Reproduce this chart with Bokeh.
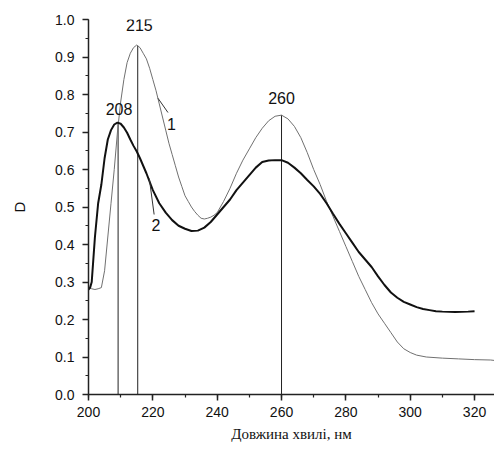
from bokeh.plotting import figure
from bokeh.embed import file_html
from bokeh.resources import INLINE
from bokeh.models import Range1d, FixedTicker, NumeralTickFormatter
from bokeh.core.properties import value

# Curve 1 (thin, grey)
wl1 = [200, 201, 202, 203, 204, 205, 206, 207, 208, 209, 210, 211, 212, 213, 214, 215, 216, 217, 218, 219,
       220, 221, 222, 223, 224, 225, 226, 227, 228, 229, 230, 231, 232, 233, 234, 235, 236, 237, 238, 239,
       240, 242, 244, 246, 248, 250, 252, 254, 256, 258, 260, 262, 264, 266, 268, 270, 272, 274, 276, 278,
       280, 282, 284, 286, 288, 290, 292, 294, 296, 298, 300, 302, 305, 310, 315, 320, 325, 327]
d1 = [0.285, 0.282, 0.280, 0.282, 0.285, 0.33, 0.42, 0.51, 0.60, 0.70, 0.78, 0.84, 0.885, 0.91, 0.925, 0.932,
      0.925, 0.91, 0.895, 0.87, 0.84, 0.81, 0.775, 0.74, 0.705, 0.67, 0.64, 0.61, 0.58, 0.555, 0.53, 0.515,
      0.50, 0.488, 0.478, 0.47, 0.468, 0.47, 0.473, 0.478, 0.485, 0.515, 0.55, 0.59, 0.625, 0.655, 0.685,
      0.71, 0.73, 0.742, 0.745, 0.735, 0.715, 0.685, 0.645, 0.60, 0.56, 0.515, 0.475, 0.435, 0.395, 0.355,
      0.315, 0.28, 0.245, 0.215, 0.19, 0.165, 0.14, 0.122, 0.112, 0.105, 0.10, 0.097, 0.095, 0.093, 0.092, 0.09]

# Curve 2 (thick, black)
wl2 = [200, 200.5, 201, 202, 203, 204, 205, 206, 207, 208, 209, 210, 211, 212, 213, 214, 215, 216, 218, 220,
       222, 224, 226, 228, 230, 232, 234, 236, 238, 240, 242, 244, 246, 248, 250, 252, 254, 256, 258, 260,
       262, 264, 266, 268, 270, 272, 274, 276, 278, 280, 282, 284, 286, 288, 290, 292, 294, 296, 298, 300,
       302, 304, 306, 308, 310, 314, 318, 320]
d2 = [0.28, 0.285, 0.30, 0.42, 0.51, 0.56, 0.63, 0.68, 0.705, 0.72, 0.725, 0.722, 0.712, 0.698, 0.68, 0.663,
      0.648, 0.63, 0.59, 0.545, 0.51, 0.485, 0.465, 0.45, 0.442, 0.436, 0.437, 0.445, 0.46, 0.48, 0.50, 0.52,
      0.545, 0.565, 0.585, 0.605, 0.62, 0.624, 0.625, 0.625, 0.618, 0.605, 0.59, 0.572, 0.555, 0.535, 0.51,
      0.482, 0.455, 0.43, 0.405, 0.38, 0.36, 0.34, 0.315, 0.292, 0.272, 0.258, 0.247, 0.24, 0.233, 0.228,
      0.225, 0.222, 0.221, 0.220, 0.221, 0.222]

# Peak markers
peak_x = [209.2, 215.3, 260]
peak_top = [0.725, 0.93, 0.745]
peak_labels = ["208", "215", "260"]
peak_label_x = [209.5, 215.8, 260]
peak_label_y = [0.762, 0.985, 0.79]

# Curve numbers and leader lines
curve_labels = ["1", "2"]
curve_label_x = [225.8, 221.0]
curve_label_y = [0.722, 0.452]
leader_x0 = [221.6, 218.9]
leader_y0 = [0.79, 0.576]
leader_x1 = [224.7, 220.4]
leader_y1 = [0.752, 0.48]

x_ticks = [200, 220, 240, 260, 280, 300, 320]
y_ticks = [0.0, 0.1, 0.2, 0.3, 0.4, 0.5, 0.6, 0.7, 0.8, 0.9, 1.0]

p = figure(width=494, height=444, output_backend="svg", toolbar_location=None,
           x_range=Range1d(200, 326.2), y_range=Range1d(0, 1.0),
           min_border_left=88, min_border_top=19, min_border_bottom=45, min_border_right=0)
p.outline_line_color = None
p.xgrid.visible = False
p.ygrid.visible = False
p.background_fill_color = "white"

p.segment(x0=peak_x, y0=[0] * len(peak_x), x1=peak_x, y1=peak_top, line_color="#222222", line_width=1)
p.line(wl1, d1, line_color="#707070", line_width=1)
p.line(wl2, d2, line_color="#111111", line_width=2)
p.segment(x0=leader_x0, y0=leader_y0, x1=leader_x1, y1=leader_y1, line_color="#333333", line_width=1)

p.text(x=peak_label_x, y=peak_label_y, text=peak_labels, text_align="center", text_baseline="middle",
       text_font=value("Liberation Sans"), text_font_size="16px", text_color="#111111")
p.text(x=curve_label_x, y=curve_label_y, text=curve_labels, text_align="center", text_baseline="middle",
       text_font=value("Liberation Sans"), text_font_size="16px", text_color="#111111")

p.xaxis.ticker = FixedTicker(ticks=x_ticks, minor_ticks=list(range(200, 330, 10)))
p.yaxis.ticker = FixedTicker(ticks=y_ticks, minor_ticks=[i * 0.05 for i in range(21)])
p.yaxis.formatter = NumeralTickFormatter(format="0.0")

for ax in (p.xaxis, p.yaxis):
    ax.axis_line_color = "#222222"
    ax.axis_line_width = 1.5
    ax.major_tick_line_color = "#222222"
    ax.minor_tick_line_color = "#222222"
    ax.major_tick_line_width = 1.5
    ax.minor_tick_line_width = 1.2
    ax.major_tick_out = 6
    ax.major_tick_in = 0
    ax.minor_tick_out = 3
    ax.minor_tick_in = 0
    ax.major_label_text_font = "Liberation Sans"
    ax.major_label_text_font_size = "14px"
    ax.major_label_text_color = "#111111"

p.xaxis.major_label_standoff = 6
p.yaxis.major_label_standoff = 8

p.xaxis.axis_label = "Довжина хвилі, нм"
p.xaxis.axis_label_text_font = "Liberation Serif"
p.xaxis.axis_label_text_font_style = "normal"
p.xaxis.axis_label_text_font_size = "15px"
p.xaxis.axis_label_standoff = 6
p.xaxis.axis_label_text_color = "#111111"

p.yaxis.axis_label = "D"
p.yaxis.axis_label_text_font = "Liberation Sans"
p.yaxis.axis_label_text_font_style = "normal"
p.yaxis.axis_label_text_font_size = "15px"
p.yaxis.axis_label_standoff = 24
p.yaxis.axis_label_text_color = "#111111"

open("out.html", "w").write(file_html(p, INLINE))
